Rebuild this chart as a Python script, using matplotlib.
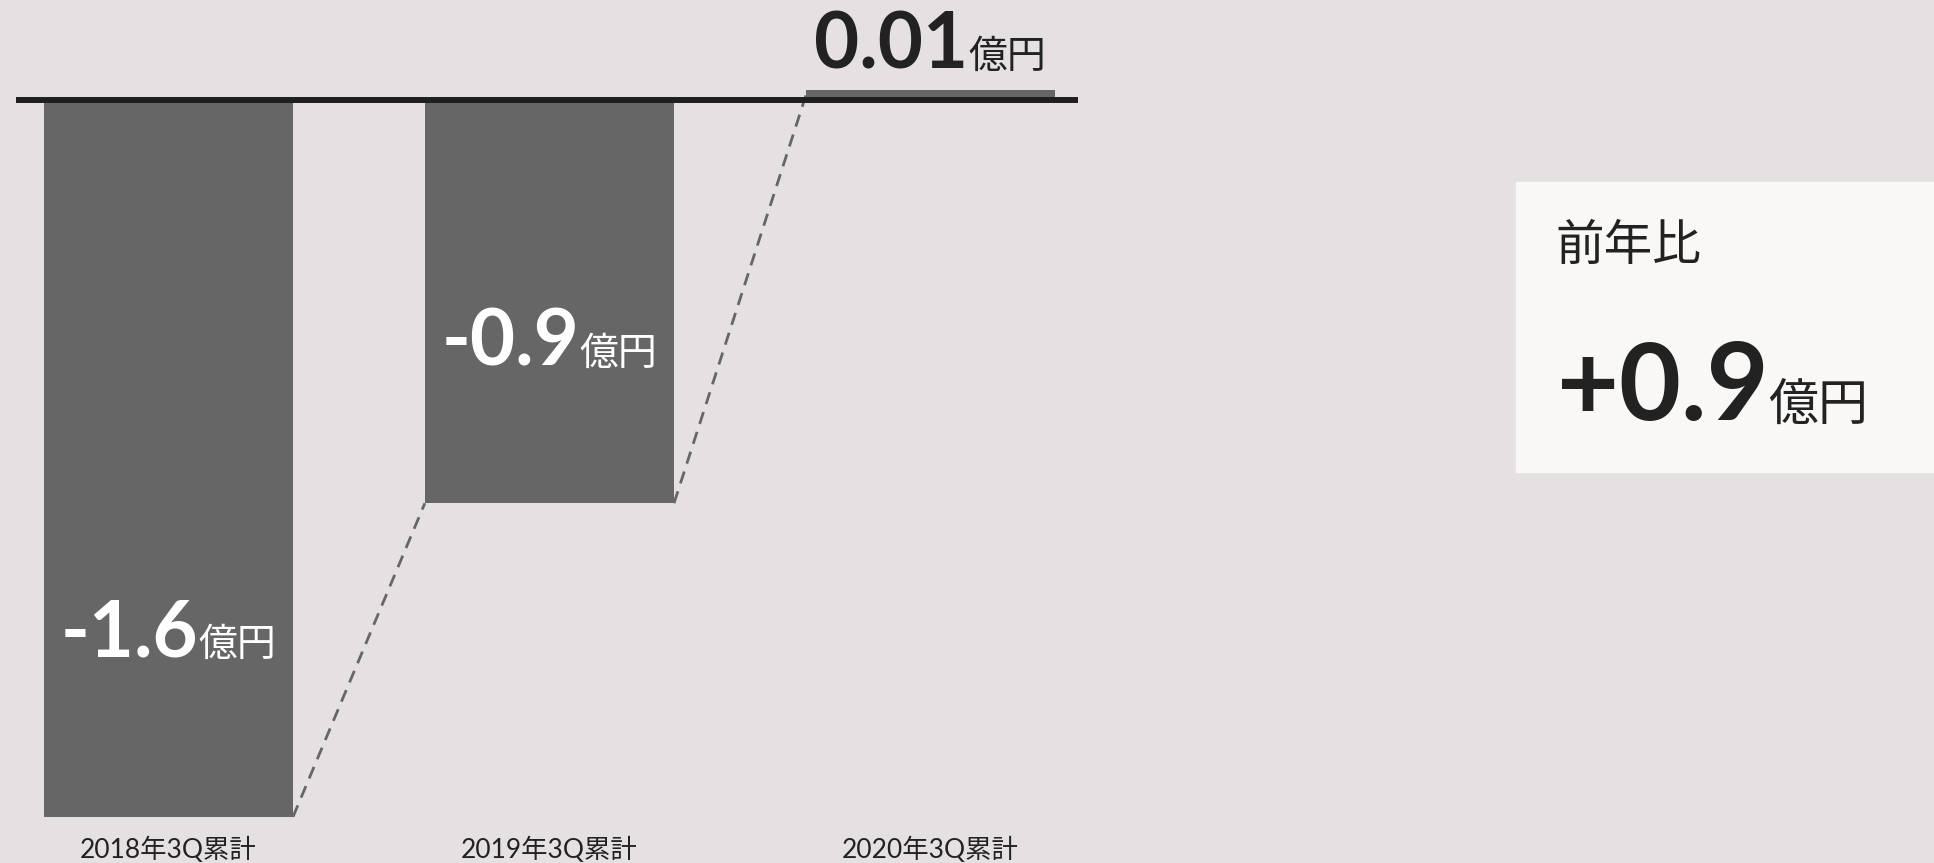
import matplotlib
matplotlib.use("Agg")
import matplotlib.pyplot as plt
from matplotlib.patches import Rectangle
from matplotlib.transforms import IdentityTransform

# data
periods = ["2018年3Q累計", "2019年3Q累計", "2020年3Q累計"]
values = [-1.6, -0.9, 0.01]
value_labels = ["-1.6", "-0.9", "0.01"]
yoy_title = "前年比"
yoy_label = "+0.9"
unit = "億円"

# style
BG = "#e5e1e2"
BAR = "#666666"
INK = "#222222"
BOX = "#f9f8f7"
NUM_FONT = ["Lato", "Noto Sans CJK JP", "DejaVu Sans"]
JP_FONT = ["Noto Sans CJK JP", "DejaVu Sans"]

W, H = 1934, 863
fig = plt.figure(figsize=(W / 100, H / 100), dpi=100, facecolor=BG)
ax = fig.add_axes([0, 0, 1, 1])
ax.set_facecolor(BG)
ax.set_xlim(-0.442, 4.634)
ax.set_ylim(-1.703, 0.2232)
ax.axis("off")

x = list(range(len(values)))
bar_w = 0.654
min_h = 0.022  # keep tiny bars visible
heights = [v if abs(v) >= min_h else min_h for v in values]
ax.bar(x, heights, width=bar_w, color=BAR, zorder=2)

# dashed connectors between bar ends
for i in range(len(values) - 1):
    ax.plot([x[i] + bar_w / 2, x[i + 1] - bar_w / 2], [values[i], values[i + 1]],
            color=BAR, lw=2.0, ls=(0, (4.5, 3)), zorder=1)

# zero line
ax.plot([x[0] - bar_w / 2 - 0.073, x[-1] + bar_w / 2 + 0.06], [0, 0],
        color="#1f1f1f", lw=4.3, solid_capstyle="butt", zorder=3)

# category labels
for xi, p in zip(x, periods):
    ax.text(xi, -1.674, p, ha="center", va="center", fontsize=19,
            family=NUM_FONT, color=INK)

renderer = fig.canvas.get_renderer()


def num_unit(px, py, num, size, usize, color, align="center"):
    t1 = ax.text(px, py, num, fontsize=size, fontweight="bold", family=NUM_FONT,
                 color=color, va="baseline", ha="left", transform=IdentityTransform(), zorder=4)
    t2 = ax.text(px, py, unit, fontsize=usize, family=JP_FONT,
                 color=color, va="baseline", ha="left", transform=IdentityTransform(), zorder=4)
    w1 = t1.get_window_extent(renderer).width
    w2 = t2.get_window_extent(renderer).width
    x0 = px - (w1 + w2) / 2 if align == "center" else px
    t1.set_position((x0, py))
    t2.set_position((x0 + w1, py))


label_y = [-1.241, -0.592, 0.0714]
label_col = ["white", "white", INK]
for xi, ly, lab, c in zip(x, label_y, value_labels, label_col):
    px, py = ax.transData.transform((xi, ly))
    num_unit(px, py, lab, 56, 28, c)

# year-on-year box
ax.add_patch(Rectangle((1516 / W, (H - 472) / H), 1 - 1516 / W, 290 / H,
                       transform=fig.transFigure, color=BOX, zorder=0))
ax.text(1555, H - 260, yoy_title, fontsize=35, family=JP_FONT, color=INK,
        va="baseline", ha="left", transform=IdentityTransform(), zorder=4)
num_unit(1557, H - 420, yoy_label, 77, 36, INK, align="left")

fig.savefig("out.png", dpi=100, facecolor=BG)
